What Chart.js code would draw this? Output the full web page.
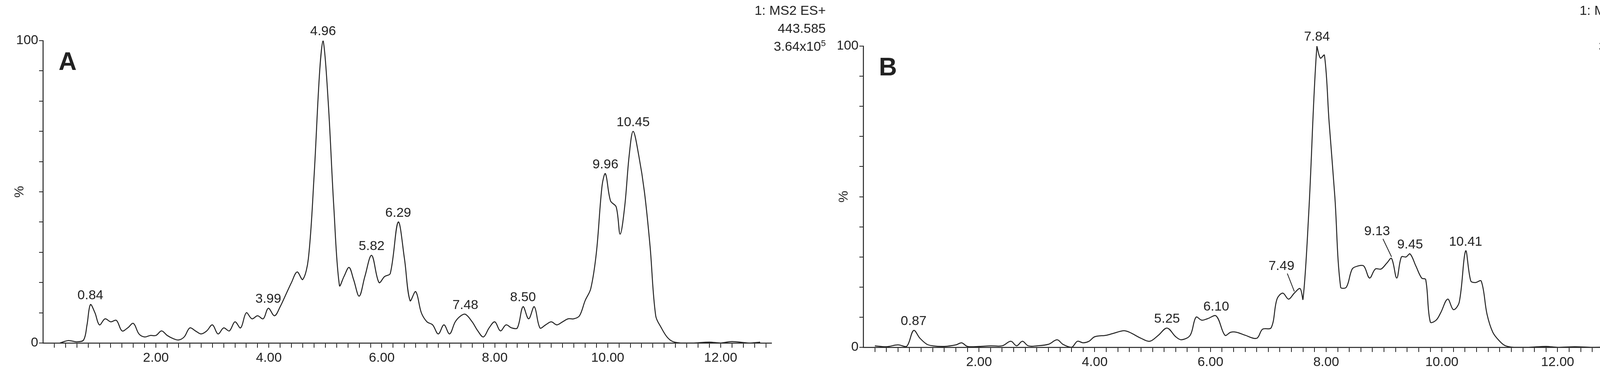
<!DOCTYPE html>
<html><head><meta charset="utf-8">
<script src="https://cdn.jsdelivr.net/npm/chart.js@4.4.1/dist/chart.umd.min.js"></script>
<style>
html,body{margin:0;padding:0;background:#fff;width:4289px;height:965px;overflow:hidden}
.p{position:absolute;top:0;width:2145px;height:965px}
</style></head><body>
<div class="p" style="left:0"><canvas id="ca"></canvas></div>
<div class="p" style="left:2145px"><canvas id="cb"></canvas></div>
<script>
const timesA=[0.3,0.45,0.6,0.72,0.78,0.84,0.92,1.0,1.1,1.2,1.3,1.4,1.5,1.6,1.7,1.8,1.9,2.0,2.1,2.2,2.3,2.4,2.5,2.6,2.7,2.8,2.9,3.0,3.1,3.2,3.3,3.4,3.5,3.6,3.7,3.8,3.9,3.99,4.1,4.2,4.3,4.4,4.5,4.6,4.7,4.8,4.9,4.96,5.05,5.15,5.25,5.33,5.42,5.5,5.6,5.7,5.82,5.95,6.05,6.15,6.29,6.4,6.5,6.6,6.7,6.8,6.9,7.0,7.1,7.2,7.3,7.4,7.48,7.6,7.7,7.8,7.9,8.0,8.1,8.2,8.3,8.4,8.5,8.6,8.7,8.8,8.9,9.0,9.1,9.2,9.3,9.4,9.5,9.6,9.7,9.8,9.9,9.96,10.05,10.15,10.22,10.3,10.38,10.45,10.55,10.65,10.75,10.85,10.95,11.05,11.15,11.3,11.5,11.8,12.0,12.2,12.5,12.7];
const valuesA=[0,0.8,0.4,1,6,12.7,10,6,8,7,7.5,4,5,6.5,3,2,2.5,2.5,4,2.5,1.5,1,2,5,4,3,4,6,3,5,4,7,5,10,8,9,8,11.5,9,12,16,20,23.5,21,28,55,90,100,80,45,19,22,25,21,15.5,22,29,20,22,23,40,28,14,17,10,7,6,3,6,3,7,9,9.5,7,4,2,5,7,4,6,5,5,12,8,12,5,6,7,6,7,8,8,9,14,18,30,52,56,47,45,36,45,62,70,62,50,32,9,5,2,0.5,0,0,0.3,0,0.5,0,0.3];
const labelsA=[0.84,3.99,4.96,5.82,6.29,7.48,8.50,9.96,10.45];
const timesB=[0.2,0.4,0.6,0.75,0.87,0.98,1.1,1.2,1.4,1.6,1.7,1.8,2.0,2.2,2.4,2.55,2.65,2.75,2.85,3.0,3.2,3.35,3.45,3.6,3.7,3.8,3.9,4.0,4.2,4.3,4.5,4.6,4.8,4.95,5.1,5.25,5.4,5.5,5.65,5.75,5.85,5.95,6.1,6.25,6.35,6.45,6.6,6.8,6.9,7.05,7.15,7.25,7.35,7.45,7.55,7.6,7.7,7.84,7.9,7.97,8.05,8.15,8.25,8.35,8.45,8.55,8.65,8.75,8.85,8.95,9.05,9.13,9.22,9.3,9.38,9.45,9.55,9.65,9.72,9.8,9.9,9.98,10.1,10.2,10.3,10.41,10.5,10.58,10.68,10.78,10.88,11.0,11.1,11.25,11.5,11.8,12.0,12.3,12.6,12.9];
const valuesB=[0.5,0.2,0.8,0.3,5.6,3,1,0.5,0.3,0.8,1.5,0.3,0.3,0.5,0.5,2,0.5,2,0.5,0.5,1,2.5,1,0,2,1.5,2,3.5,4,4.5,5.5,5,3,2,4,6.4,3.5,2.5,4,10,9,9.5,10.4,4,5,5,4,3,6,6.5,16,18,16,18,19.5,16,45,100,96,97,75,50,20,20,26,27,27,23,26,26,28,29.5,23,30,30,31,27,23,22.5,8.4,9,11.5,16,12.5,15,32,22,21.5,22,11,5,2,0.5,0,0,0.3,0,0.2,0,0.1];
const labelsB=[0.87,5.25,6.10,7.49,7.84,9.13,9.45,10.41];
const headerA=["1: MS2 ES+","443.585","3.64x10","5"];
const headerB=["1: MS2 ES+","647.256","3.18x10","5"];

const FONT='"Liberation Sans", Arial, sans-serif';
function decor(cfg){return {id:'decor',afterDraw(chart){
  const c=chart.ctx,ds=chart.data.datasets[0].data,xs=chart.scales.x,ys=chart.scales.y,a=chart.chartArea;
  c.save();c.fillStyle='#222';c.font='34px '+FONT;c.textAlign='center';c.textBaseline='bottom';
  cfg.labels.forEach(t=>{let best=ds[0];ds.forEach(p=>{if(Math.abs(p.x-t)<Math.abs(best.x-t))best=p;});
    const px=xs.getPixelForValue(best.x),py=ys.getPixelForValue(best.y);
    const off=(cfg.lead&&cfg.lead[t])||0;
    if(off){c.strokeStyle='#222';c.lineWidth=2;c.beginPath();c.moveTo(px,py-4);c.lineTo(px-off,py-50);c.stroke();
      c.fillText(t.toFixed(2),px-off-15,py-52);}
    else c.fillText(t.toFixed(2),px,py-6);});
  c.font='bold 64px '+FONT;c.textAlign='left';c.textBaseline='alphabetic';c.fillText(cfg.letter,a.left+40,a.top+75);
  c.font='34px '+FONT;c.textAlign='right';const R=cfg.hx;
  c.fillText(cfg.header[0],R,cfg.hy);c.fillText(cfg.header[1],R,cfg.hy+46);
  c.font='22px '+FONT;const w5=c.measureText(cfg.header[3]).width;c.fillText(cfg.header[3],R,cfg.hy+80);
  c.font='34px '+FONT;c.fillText(cfg.header[2],R-w5,cfg.hy+92);
  c.translate(cfg.px,(a.top+a.bottom)/2);c.rotate(-Math.PI/2);c.textAlign='center';c.fillText('%',0,0);
  c.restore();}};}

function make(id,times,values,cfg){
  const data=times.map((t,i)=>({x:t,y:values[i]}));
  new Chart(document.getElementById(id),{type:'line',
    data:{datasets:[{data,borderColor:'#222',borderWidth:2.5,pointRadius:0,tension:0.35,fill:false}]},
    options:{responsive:false,animation:false,devicePixelRatio:1,
      layout:{padding:cfg.pad},
      plugins:{legend:{display:false},tooltip:{enabled:false}},
      scales:{
        x:{type:'linear',min:cfg.xmin,max:cfg.xmax,afterFit(s){s.height=cfg.xh;},
          afterBuildTicks(s){const t=[];for(let v=0.2;v<=cfg.xmax+1e-6;v+=0.2)t.push({value:Math.round(v*10)/10});s.ticks=t;},
          border:{color:'#222',width:2.5},
          grid:{drawOnChartArea:false,tickLength:12,color:'#222',lineWidth:2},
          ticks:{autoSkip:false,maxRotation:0,color:'#222',font:{family:FONT,size:34},padding:6,
            callback:v=>(Math.abs(v/2-Math.round(v/2))<1e-6&&v>0)?v.toFixed(2):''}},
        y:{min:0,max:100,afterFit(s){s.width=cfg.yw;},
          border:{color:'#222',width:2.5},
          grid:{drawOnChartArea:false,tickLength:10,color:'#222',lineWidth:2},
          ticks:{stepSize:10,autoSkip:false,color:'#222',font:{family:FONT,size:34},padding:2,
            callback:v=>(v===0||v===100)?String(v):''}}}},
    plugins:[decor(cfg)]});
}
document.getElementById('ca').width=2145;document.getElementById('ca').height=965;
document.getElementById('cb').width=2144;document.getElementById('cb').height=965;
make('ca',timesA,valuesA,{pad:{left:30,top:104,right:170,bottom:7},xh:80,yw:80,xmin:0,xmax:12.9,
  labels:labelsA,letter:'A',header:headerA,hx:2114,hy:38,px:60});
make('cb',timesB,valuesB,{pad:{left:0,top:118,right:146,bottom:6},xh:70,yw:65,xmin:0,xmax:13.05,
  labels:labelsB,letter:'B',header:headerB,hx:2081,hy:38,px:25,lead:{7.49:18,9.13:22}});
</script></body></html>
